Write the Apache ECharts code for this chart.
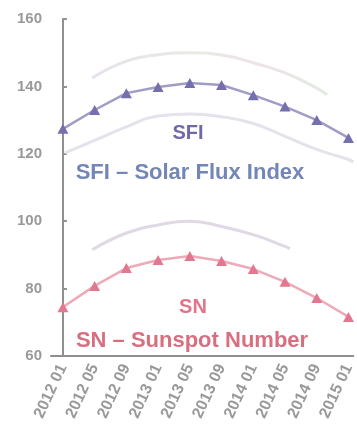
<!DOCTYPE html>
<html>
<head>
<meta charset="utf-8">
<style>
  html, body { margin: 0; padding: 0; background: #ffffff; }
  #chart { width: 357px; height: 435px; }
</style>
<script src="https://cdn.jsdelivr.net/npm/echarts@6/dist/echarts.min.js"></script>
</head>
<body>
<div id="chart"></div>
<script>
// Month offsets from 2012 01 and their tick labels
const months = [0, 4, 8, 12, 16, 20, 24, 28, 32, 36];
const monthLabels = ['2012 01', '2012 05', '2012 09', '2013 01', '2013 05', '2013 09', '2014 01', '2014 05', '2014 09', '2015 01'];

// Observed / smoothed values
const sfi = [127.4, 133, 138, 139.8, 141, 140.4, 137.4, 134, 130, 124.7];
const sn = [74.5, 80.8, 86.1, 88.5, 89.7, 88.2, 85.8, 82, 77.2, 71.6];

// Expected range curves: [month offset, value]
const sfiHigh = [[3.7, 142.5], [8, 147.5], [12, 149.4], [16, 150], [20, 149.3], [24, 147], [28, 144], [32, 139.5], [33.3, 137.5]];
const sfiLow = [[0.25, 120.3], [4, 124], [8, 128], [12, 131.2], [16, 131.8], [20, 131], [24, 129], [28, 125.2], [32, 121.3], [36, 118.3], [36.6, 117.6]];
const snHigh = [[3.7, 91.5], [8, 96.5], [12, 98.9], [16, 100], [20, 98.4], [24, 96], [28, 92.5], [28.6, 91.8]];

const yTicks = [60, 80, 100, 120, 140, 160];

const chart = echarts.init(document.getElementById('chart'), null, { renderer: 'canvas' });

const pairs = (vals) => vals.map((v, i) => [months[i], v]);
const labelFor = (m) => {
  const i = months.indexOf(m);
  return i >= 0 ? monthLabels[i] : '';
};

chart.setOption({
  backgroundColor: '#ffffff',
  animation: false,
  grid: { left: 51, right: 0, top: 19, bottom: 79, containLabel: false },
  xAxis: {
    type: 'value',
    min: -1.5,
    max: 36.62,
    splitLine: { show: false },
    axisLine: { show: true, lineStyle: { color: '#8f8f8f', width: 2 } },
    axisTick: { show: false },
    axisLabel: {
      customValues: months,
      rotate: 65,
      margin: 9,
      color: '#999999',
      fontFamily: 'Liberation Sans, Arial, sans-serif',
      fontWeight: 'bold',
      fontSize: 16,
      formatter: (v) => labelFor(v)
    }
  },
  yAxis: {
    type: 'value',
    min: 60,
    max: 160,
    interval: 20,
    splitLine: { show: false },
    axisLine: { show: true, lineStyle: { color: '#8f8f8f', width: 2 } },
    axisTick: { show: true, inside: true, length: 4, lineStyle: { color: '#8f8f8f', width: 2 } },
    axisLabel: {
      margin: 9,
      color: '#999999',
      fontFamily: 'Liberation Sans, Arial, sans-serif',
      fontWeight: 'bold',
      fontSize: 15,
      formatter: (v) => yTicks.includes(v) ? String(v) : ''
    }
  },
  series: [
    {
      name: 'SFI high', type: 'line', data: sfiHigh, smooth: 0.5, symbol: 'none',
      lineStyle: {
        width: 3,
        color: {
          type: 'linear', x: 0, y: 0, x2: 1, y2: 0,
          colorStops: [
            { offset: 0, color: '#e8e0ec' },
            { offset: 0.45, color: '#e8ebe4' },
            { offset: 0.7, color: '#efe2e8' },
            { offset: 1, color: '#e0ebdf' }
          ]
        }
      }
    },
    {
      name: 'SFI low', type: 'line', data: sfiLow, smooth: 0.5, symbol: 'none',
      lineStyle: { width: 3, color: '#e5e2ec' }
    },
    {
      name: 'SN high', type: 'line', data: snHigh, smooth: 0.5, symbol: 'none',
      lineStyle: { width: 3, color: '#dfd9e6' }
    },
    {
      name: 'SFI', type: 'line', data: pairs(sfi),
      symbol: 'triangle', symbolSize: [11, 10],
      itemStyle: { color: '#7570ad' },
      lineStyle: { width: 2.5, color: '#a09cc6' }
    },
    {
      name: 'SN', type: 'line', data: pairs(sn),
      symbol: 'triangle', symbolSize: [11, 10],
      itemStyle: { color: '#e27890' },
      lineStyle: { width: 2.5, color: '#eeaab8' }
    }
  ],
  graphic: [
    {
      type: 'text', style: {
        text: 'SFI', x: 188, y: 133, align: 'center', verticalAlign: 'middle',
        fill: '#6e69a7', font: 'bold 20px "Liberation Sans", Arial, sans-serif'
      }
    },
    {
      type: 'text', style: {
        text: 'SFI – Solar Flux Index', x: 190, y: 173, align: 'center', verticalAlign: 'middle',
        fill: '#7386b6', font: 'bold 22px "Liberation Sans", Arial, sans-serif'
      }
    },
    {
      type: 'text', style: {
        text: 'SN', x: 193, y: 307, align: 'center', verticalAlign: 'middle',
        fill: '#e07489', font: 'bold 20px "Liberation Sans", Arial, sans-serif'
      }
    },
    {
      type: 'text', style: {
        text: 'SN – Sunspot Number', x: 192, y: 341, align: 'center', verticalAlign: 'middle',
        fill: '#d86f81', font: 'bold 22px "Liberation Sans", Arial, sans-serif'
      }
    }
  ]
});
</script>
</body>
</html>
